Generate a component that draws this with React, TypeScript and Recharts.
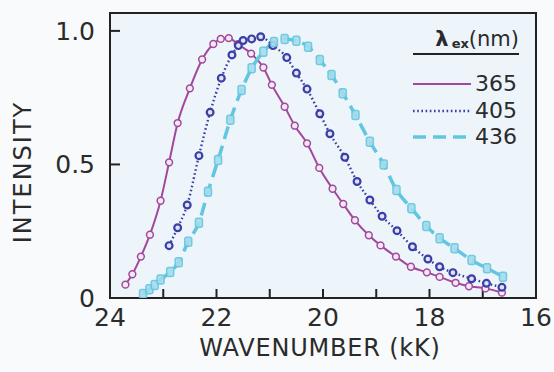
import { LineChart, Line, XAxis, YAxis, ReferenceArea, Legend } from 'recharts'

const FONT = '"DejaVu Sans", Arial, sans-serif'
const INK = '#2b2b2b'
const PLOT_BG = '#edf5fb'
const PAGE_BG = '#f8fafb'

const X_TICKS = [24, 23, 22, 21, 20, 19, 18, 17, 16]
const Y_TICKS = [0, 0.5, 1]
const Y_MAX = 1.067

// excitation 365 nm
const WN_365 = [23.71, 23.58, 23.42, 23.25, 23.05, 22.89, 22.73, 22.5, 22.27, 22.06, 21.92, 21.77, 21.6, 21.35, 21.12, 20.96, 20.72, 20.53, 20.3, 20.07, 19.82, 19.62, 19.4, 19.14, 18.92, 18.63, 18.35, 18.05, 17.81, 17.51, 17.26, 16.95, 16.64]
const INT_365 = [0.05, 0.089, 0.155, 0.237, 0.364, 0.508, 0.655, 0.785, 0.893, 0.951, 0.97, 0.973, 0.95, 0.915, 0.863, 0.798, 0.716, 0.645, 0.579, 0.487, 0.409, 0.352, 0.291, 0.235, 0.197, 0.155, 0.117, 0.096, 0.079, 0.057, 0.044, 0.036, 0.02]

// excitation 405 nm
const WN_405 = [22.89, 22.73, 22.55, 22.33, 22.12, 21.91, 21.71, 21.59, 21.5, 21.34, 21.17, 20.94, 20.68, 20.5, 20.3, 20.06, 19.87, 19.59, 19.36, 19.12, 18.89, 18.61, 18.32, 18.03, 17.81, 17.56, 17.21, 16.93, 16.64]
const INT_405 = [0.196, 0.263, 0.348, 0.533, 0.695, 0.823, 0.91, 0.945, 0.964, 0.97, 0.978, 0.945, 0.9, 0.842, 0.782, 0.69, 0.615, 0.527, 0.436, 0.367, 0.306, 0.252, 0.192, 0.146, 0.117, 0.095, 0.072, 0.055, 0.04]

// excitation 436 nm
const WN_436 = [23.38, 23.26, 23.16, 23.05, 22.87, 22.71, 22.53, 22.33, 22.16, 21.97, 21.74, 21.53, 21.34, 21.12, 20.92, 20.72, 20.5, 20.28, 20.06, 19.84, 19.63, 19.39, 19.12, 18.86, 18.62, 18.34, 18.06, 17.81, 17.53, 17.21, 16.92, 16.62]
const INT_436 = [0.015, 0.033, 0.049, 0.069, 0.097, 0.134, 0.211, 0.282, 0.398, 0.517, 0.667, 0.779, 0.86, 0.922, 0.958, 0.97, 0.963, 0.941, 0.891, 0.835, 0.767, 0.685, 0.585, 0.5, 0.404, 0.336, 0.27, 0.224, 0.186, 0.142, 0.111, 0.08]

const toRows = (w: number[], v: number[]) => w.map((x, i) => ({ w: x, v: v[i] }))

const SERIES = [
  { name: '365', data: toRows(WN_365, INT_365), color: '#a3479d', width: 2, dash: undefined, kind: 'ring' },
  { name: '405', data: toRows(WN_405, INT_405), color: '#3a3ea6', width: 2.4, dash: '1.6 2.6', kind: 'dot' },
  { name: '436', data: toRows(WN_436, INT_436), color: '#62c6e0', width: 3.5, dash: '13 7', kind: 'square' },
]

function makeDot(kind: string, color: string) {
  return (props: any) => {
    const { cx, cy, index } = props
    if (cx == null || cy == null) return <g key={index} />
    if (kind === 'square') {
      return <rect key={index} x={cx - 3.5} y={cy - 4.5} width={7} height={9} rx={2} fill="#a6dcec" stroke={color} strokeWidth={1.5} opacity={0.9} />
    }
    if (kind === 'dot') {
      return <circle key={index} cx={cx} cy={cy} r={3.4} fill="#dfe4f6" stroke={color} strokeWidth={2.2} />
    }
    return <circle key={index} cx={cx} cy={cy} r={3.4} fill="#f2eaf3" stroke={color} strokeWidth={1.5} />
  }
}

function LegendBox() {
  return (
    <div style={{ width: 106, fontFamily: FONT, color: INK }}>
      <div style={{ borderBottom: '2px solid #222', fontSize: 21, lineHeight: '23px', textAlign: 'right', whiteSpace: 'nowrap' }}>
        <span style={{ fontWeight: 'bold' }}>λ</span>
        <span style={{ fontSize: 13, fontWeight: 'bold', position: 'relative', top: 2, marginLeft: 3 }}>ex</span>(nm)
      </div>
      <div style={{ height: 16 }} />
      {SERIES.map((s) => (
        <div key={s.name} style={{ display: 'flex', alignItems: 'center', height: 26.5 }}>
          <svg width={58} height={10} style={{ flex: 'none' }}>
            <line x1={0} y1={5} x2={58} y2={5} stroke={s.color} strokeWidth={s.width} strokeDasharray={s.dash} />
          </svg>
          <span style={{ fontSize: 22, marginLeft: 4, lineHeight: '26px' }}>{s.name}</span>
        </div>
      ))}
    </div>
  )
}

export default function App() {
  return (
    <div style={{ position: 'absolute', left: 0, top: 0, width: 554, height: 372, background: PAGE_BG, overflow: 'hidden' }}>
      <LineChart width={554} height={372} margin={{ top: 13, right: 18, left: 0, bottom: 0 }}>
        <ReferenceArea x1={16} x2={24} y1={0} y2={Y_MAX} fill={PLOT_BG} fillOpacity={1} stroke="#222" strokeWidth={2} />
        <XAxis
          dataKey="w"
          type="number"
          domain={[16, 24]}
          reversed
          allowDataOverflow
          ticks={X_TICKS}
          interval={0}
          tickFormatter={(v: number) => (v % 2 === 0 ? String(v) : '')}
          height={74}
          tickSize={-9}
          tickMargin={19}
          axisLine={{ stroke: '#222', strokeWidth: 2 }}
          tickLine={{ stroke: '#222', strokeWidth: 2 }}
          tick={{ fill: INK, fontSize: 25, fontFamily: FONT }}
        />
        <YAxis
          type="number"
          domain={[0, Y_MAX]}
          allowDataOverflow
          ticks={Y_TICKS}
          interval={0}
          tickFormatter={(v: number) => (v === 0 ? '0' : v.toFixed(1))}
          width={110}
          tickSize={-10}
          tickMargin={25}
          axisLine={{ stroke: '#222', strokeWidth: 2 }}
          tickLine={{ stroke: '#222', strokeWidth: 2 }}
          tick={{ fill: INK, fontSize: 25, fontFamily: FONT }}
        />
        {SERIES.map((s) => (
          <Line
            key={s.name}
            data={s.data}
            dataKey="v"
            name={s.name}
            type="monotone"
            stroke={s.color}
            strokeWidth={s.width}
            strokeDasharray={s.dash}
            dot={makeDot(s.kind, s.color)}
            activeDot={false}
            isAnimationActive={false}
          />
        ))}
        <Legend
          layout="horizontal"
          verticalAlign="middle"
          align="center"
          content={() => <LegendBox />}
          wrapperStyle={{ left: 413, top: 28, width: 106 }}
        />
      </LineChart>
      <div style={{ position: 'absolute', left: 23, top: 172, transform: 'translate(-50%, -50%) rotate(-90deg)', fontFamily: FONT, fontSize: 24, color: INK, letterSpacing: 2, whiteSpace: 'nowrap' }}>
        INTENSITY
      </div>
      <div style={{ position: 'absolute', left: 320, top: 348, transform: 'translate(-50%, -50%)', fontFamily: FONT, fontSize: 24, color: INK, letterSpacing: 0.8, whiteSpace: 'nowrap' }}>
        WAVENUMBER (kK)
      </div>
    </div>
  )
}
